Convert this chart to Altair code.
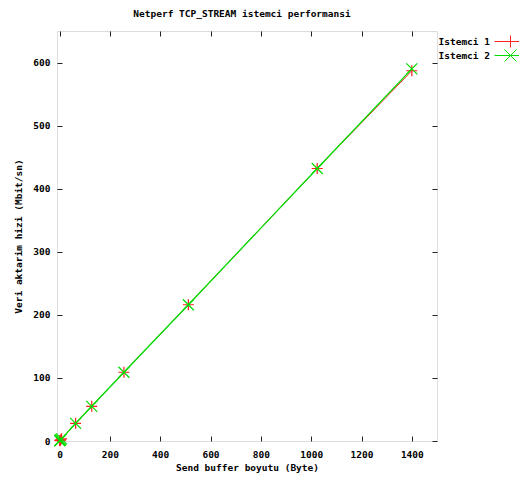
import altair as alt
import pandas as pd

# Data
buffer_sizes = [1, 2, 4, 8, 64, 128, 256, 512, 1024, 1400]
istemci1 = [0.4, 0.9, 1.7, 3.4, 28, 55, 109, 216, 432, 587]
istemci2 = [0.4, 0.9, 1.7, 3.4, 28, 55, 109, 216, 432, 590]
series_names = ["Istemci 1", "Istemci 2"]
x_ticks = [0, 200, 400, 600, 800, 1000, 1200, 1400]
y_ticks = [0, 100, 200, 300, 400, 500, 600]

RED = "#ff2020"
GREEN = "#00dd00"
FONT = "DejaVu Sans Mono"
PLUS = "M-1,0H1M0,-1V1"
CROSS = "M-1,-1L1,1M-1,1L1,-1"
# legend sample: a short line with the marker, drawn to the right of the label
LEG_PLUS = "M1.833,0H7.167M4.5,-1V1"
LEG_CROSS = "M1.833,0H7.167M3.5,-1L5.5,1M3.5,1L5.5,-1"

df1 = pd.DataFrame({"x": buffer_sizes, "y": istemci1, "series": series_names[0]})
df2 = pd.DataFrame({"x": buffer_sizes, "y": istemci2, "series": series_names[1]})

xscale = alt.Scale(domain=[-10, 1500], nice=False, zero=False)
yscale = alt.Scale(domain=[0, 650], nice=False, zero=False)

x_axis = alt.Axis(values=x_ticks, format="d", tickSize=5, offset=-5, domain=False, grid=False,
                  labelPadding=8, tickColor="#222", labelColor="#000",
                  labelFont=FONT, labelFontSize=9.5, labelFontWeight="bold",
                  title="Send buffer boyutu (Byte)", titleFont=FONT, titleFontSize=9.5,
                  titleFontWeight="bold", titleColor="#000", titlePadding=4,
                  labelFlush=False)
y_axis = alt.Axis(values=y_ticks, format="d", tickSize=5, offset=-5, domain=False, grid=False,
                  labelPadding=7, tickColor="#222", labelColor="#000",
                  labelFont=FONT, labelFontSize=9.5, labelFontWeight="bold",
                  title="Veri aktarim hizi (Mbit/sn)", titleFont=FONT, titleFontSize=9.5,
                  titleFontWeight="bold", titleColor="#000", titlePadding=9,
                  labelFlush=False)
x_axis2 = alt.Axis(values=x_ticks, tickSize=5, offset=-5, domain=False, grid=False,
                   labels=False, tickColor="#222", title=None, orient="top")
y_axis2 = alt.Axis(values=y_ticks, tickSize=5, offset=-5, domain=False, grid=False,
                   labels=False, tickColor="#222", title=None, orient="right")


def legend_for(stroke, path, ly):
    return alt.Legend(orient="none", legendX=420, legendY=ly, title=None, padding=0,
                      symbolType=path, symbolSize=144, symbolStrokeWidth=1,
                      symbolStrokeColor=stroke, symbolFillColor="transparent",
                      labelAlign="right", labelOffset=0, labelFont=FONT,
                      labelFontSize=9.5, labelFontWeight="bold", labelColor="#000")


line1 = alt.Chart(df1).mark_line(strokeWidth=1).encode(
    x=alt.X("x:Q", scale=xscale, axis=x_axis),
    y=alt.Y("y:Q", scale=yscale, axis=y_axis),
    color=alt.Color("series:N", scale=alt.Scale(domain=[series_names[0]], range=[RED]),
                    legend=legend_for(RED, LEG_PLUS, 4)),
)
pts1 = alt.Chart(df1).mark_point(shape=PLUS, size=121, filled=False, strokeWidth=1.2,
                                 color=RED, opacity=1).encode(
    x=alt.X("x:Q", scale=xscale, axis=None),
    y=alt.Y("y:Q", scale=yscale, axis=None),
)
line2 = alt.Chart(df2).mark_line(strokeWidth=1.3).encode(
    x=alt.X("x:Q", scale=xscale, axis=None),
    y=alt.Y("y:Q", scale=yscale, axis=None),
    color=alt.Color("series:N", scale=alt.Scale(domain=[series_names[1]], range=[GREEN]),
                    legend=legend_for(GREEN, LEG_CROSS, 18)),
)
pts2 = alt.Chart(df2).mark_point(shape=CROSS, size=121, filled=False, strokeWidth=1.2,
                                 color=GREEN, opacity=1).encode(
    x=alt.X("x:Q", scale=xscale, axis=None),
    y=alt.Y("y:Q", scale=yscale, axis=None),
)
mirror = alt.Chart(df1).mark_point(opacity=0).encode(
    x=alt.X("x:Q", scale=xscale, axis=x_axis2),
    y=alt.Y("y:Q", scale=yscale, axis=y_axis2),
)

chart = alt.layer(line1, pts1, line2, pts2, mirror).resolve_scale(
    color="independent"
).resolve_axis(x="independent", y="independent").properties(
    width=380, height=410,
    autosize=alt.AutoSizeParams(type="none"),
    padding={"left": 49, "top": 23, "right": 82, "bottom": 33},
    title=alt.TitleParams("Netperf TCP_STREAM istemci performansi", font=FONT,
                          fontSize=9.5, fontWeight="bold", color="#000",
                          offset=12, dx=-5, anchor="middle"),
).configure_view(stroke="#777", strokeWidth=1.5).configure(background="white")

chart.save("out.html", embed_options={"renderer": "svg", "actions": False})
